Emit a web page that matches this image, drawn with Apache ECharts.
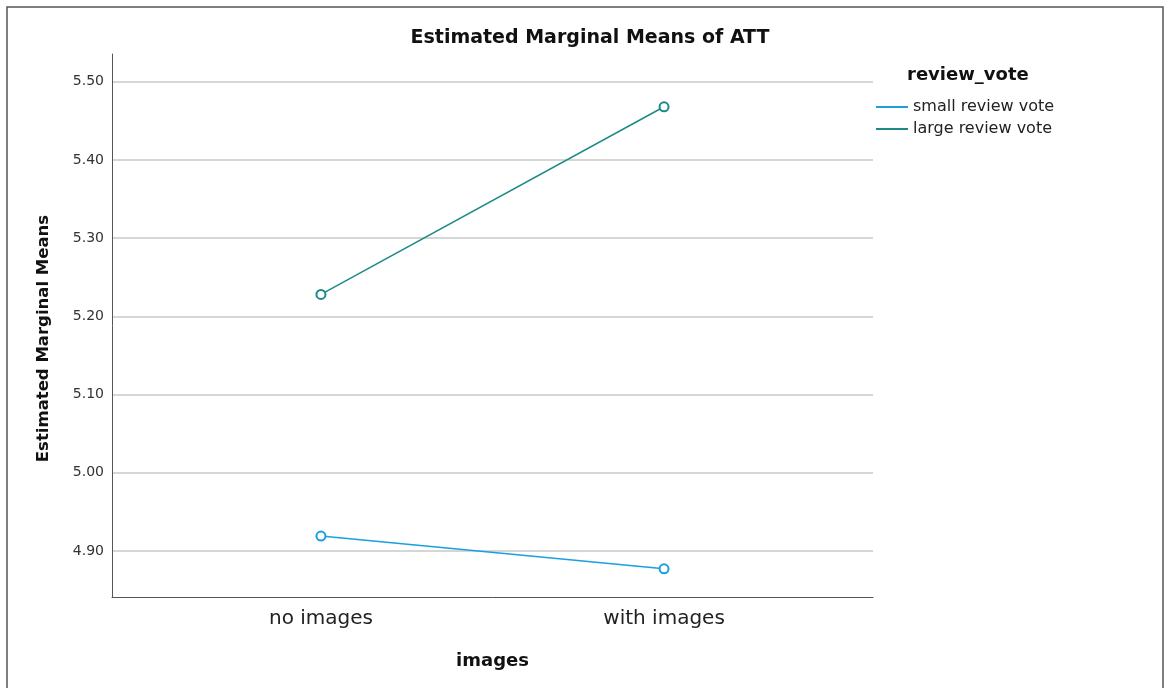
<!DOCTYPE html>
<html>
<head>
<meta charset="utf-8">
<title>Estimated Marginal Means of ATT</title>
<script src="https://cdn.jsdelivr.net/npm/echarts@6/dist/echarts.min.js"></script>
<style>
  html, body { margin: 0; padding: 0; background: #fff; }
  #chart { width: 1166px; height: 688px; }
</style>
</head>
<body>
<div id="chart"></div>
<script>
// categories on the x axis
const categories = ["no images", "with images"];
const categoryPos = [0, 1];
// y tick labels
const yTicks = [4.9, 5.0, 5.1, 5.2, 5.3, 5.4, 5.5];
// series
const seriesNames = ["small review vote", "large review vote"];
const smallVote = [4.919, 4.877];
const largeVote = [5.228, 5.468];
const seriesColors = ["#1a9fe0", "#1e8a86"];

const chart = echarts.init(document.getElementById("chart"));
const font = "'DejaVu Sans', sans-serif";

function toPairs(values) {
  return values.map((v, i) => [categoryPos[i], v]);
}

chart.setOption({
  animation: false,
  title: {
    text: "Estimated Marginal Means of ATT",
    left: 590,
    textAlign: "center",
    top: 29,
    padding: 0,
    textStyle: { fontFamily: font, fontSize: 19, fontWeight: "bold", color: "#111" },
  },
  legend: {
    orient: "vertical",
    left: 876,
    top: 99,
    padding: 0,
    itemWidth: 32,
    itemHeight: 2,
    itemGap: 6,
    icon: "rect",
    data: seriesNames,
    textStyle: { fontFamily: font, fontSize: 16, color: "#222", padding: [0, 0, 0, 0] },
  },
  graphic: [
    {
      type: "text",
      left: 907,
      top: 66,
      style: { text: "review_vote", font: "bold 18px " + font, fill: "#111" },
    },
    {
      type: "rect",
      shape: { x: 7, y: 7, width: 1156, height: 700 },
      style: { fill: "none", stroke: "#555", lineWidth: 1.5 },
    },
  ],
  grid: { left: 112, right: 293, top: 54, bottom: 91 },
  xAxis: {
    type: "value",
    min: -0.609,
    max: 1.609,
    splitLine: { show: false },
    axisLine: { show: true, onZero: false, lineStyle: { color: "#555", width: 1 } },
    axisTick: { show: false },
    axisLabel: {
      customValues: categoryPos,
      formatter: (v) => categories[Math.round(v)],
      fontFamily: font,
      fontSize: 20,
      color: "#222",
      margin: 12,
    },
    name: "images",
    nameLocation: "middle",
    nameGap: 55,
    nameTextStyle: { fontFamily: font, fontSize: 18, fontWeight: "bold", color: "#111" },
  },
  yAxis: {
    type: "value",
    min: 4.841,
    max: 5.5355,
    axisLine: { show: true, onZero: false, lineStyle: { color: "#555", width: 1 } },
    axisTick: { show: false, customValues: yTicks },
    splitLine: { show: true, lineStyle: { color: "#c8c8c8", width: 1.5 } },
    axisLabel: {
      customValues: yTicks,
      formatter: (v) => v.toFixed(2),
      fontFamily: font,
      fontSize: 14,
      color: "#333",
      margin: 8,
      padding: [8, 0, 0, 0],
    },
    name: "Estimated Marginal Means",
    nameLocation: "middle",
    nameGap: 60,
    nameTextStyle: { fontFamily: font, fontSize: 16.5, fontWeight: "bold", color: "#111", padding: [0, 26, 0, 0] },
  },
  series: [
    {
      name: seriesNames[0],
      type: "line",
      data: toPairs(smallVote),
      color: seriesColors[0],
      symbol: "emptyCircle",
      symbolSize: 9,
      lineStyle: { width: 1.5 },
      itemStyle: { borderWidth: 1.5 },
    },
    {
      name: seriesNames[1],
      type: "line",
      data: toPairs(largeVote),
      color: seriesColors[1],
      symbol: "emptyCircle",
      symbolSize: 9,
      lineStyle: { width: 1.5 },
      itemStyle: { borderWidth: 1.5 },
    },
  ],
});
</script>
</body>
</html>
